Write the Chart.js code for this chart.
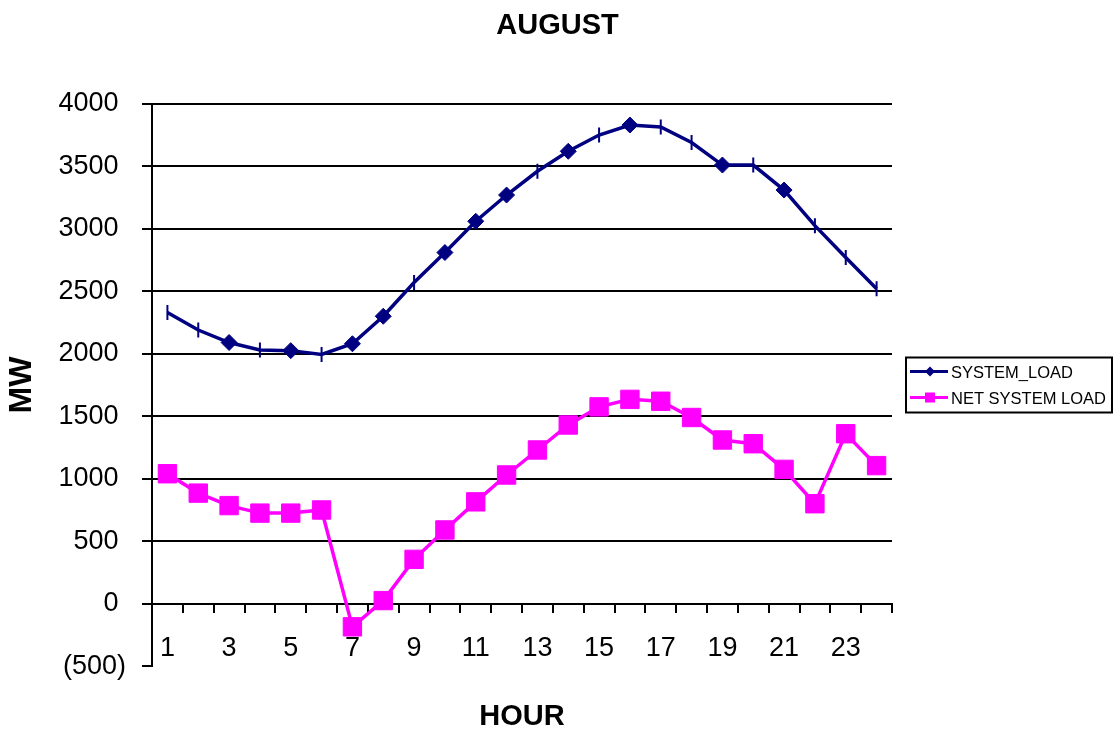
<!DOCTYPE html>
<html>
<head>
<meta charset="utf-8">
<script src="https://cdn.jsdelivr.net/npm/chart.js@4/dist/chart.umd.min.js"></script>
<style>
  html, body { margin: 0; padding: 0; background: #ffffff; }
  #wrap { width: 1115px; height: 735px; }
</style>
</head>
<body>
<div id="wrap"><canvas id="chart" width="1115" height="735"></canvas></div>
<script>
// Hourly load profile for August (MW)
const hours = [1, 2, 3, 4, 5, 6, 7, 8, 9, 10, 11, 12, 13, 14, 15, 16, 17, 18, 19, 20, 21, 22, 23, 24];
const systemLoad = [2330, 2190, 2090, 2030, 2025, 1995, 2080, 2300, 2570, 2810, 3060, 3270,
                    3460, 3620, 3750, 3830, 3815, 3690, 3510, 3510, 3310, 3025, 2770, 2520];
const netSystemLoad = [1040, 885, 785, 725, 725, 750, -185, 25, 355, 590, 815, 1030,
                       1230, 1430, 1575, 1635, 1620, 1490, 1310, 1280, 1075, 800, 1360, 1105];
const yTicks = [-500, 0, 500, 1000, 1500, 2000, 2500, 3000, 3500, 4000];

// Marker shape used for each system-load point
const systemMarkers = ['t', 't', 'd', 't', 'd', 't', 'd', 'd', 't', 'd', 'd', 'd',
                       't', 'd', 't', 'd', 't', 't', 'd', 't', 'd', 't', 't', 't'];

const NAVY = '#000080';
const MAGENTA = '#FF00FF';
const FONT = "'Liberation Sans', Arial, sans-serif";

Chart.defaults.color = '#000000';
Chart.defaults.font.family = FONT;

// Legend drawn as a boxed key to the right of the plot
const boxedLegend = {
  id: 'boxedLegend',
  afterDraw(chart) {
    const ctx = chart.ctx;
    const ca = chart.chartArea;
    const w = 206, h = 55;
    const bx = ca.right + 14;
    const by = (ca.top + ca.bottom) / 2 - h / 2;
    ctx.save();
    ctx.strokeStyle = '#000';
    ctx.lineWidth = 2;
    ctx.strokeRect(bx, by, w, h);
    const rows = [by + 14, by + 40];
    chart.data.datasets.forEach((ds, i) => {
      const y = rows[i];
      ctx.strokeStyle = ds.borderColor;
      ctx.lineWidth = 3;
      ctx.beginPath();
      ctx.moveTo(bx + 4, y);
      ctx.lineTo(bx + 42, y);
      ctx.stroke();
      ctx.fillStyle = ds.borderColor;
      const cx = bx + 24;
      if (i === 0) {
        ctx.beginPath();
        ctx.moveTo(cx - 5, y);
        ctx.lineTo(cx, y - 5);
        ctx.lineTo(cx + 5, y);
        ctx.lineTo(cx, y + 5);
        ctx.closePath();
        ctx.fill();
      } else {
        ctx.fillRect(cx - 5, y - 5, 10, 10);
      }
      ctx.fillStyle = '#000';
      ctx.font = '16.5px ' + FONT;
      ctx.textBaseline = 'middle';
      ctx.textAlign = 'left';
      ctx.fillText(ds.label, bx + 45, y + 2);
    });
    ctx.restore();
  }
};

const ctx = document.getElementById('chart').getContext('2d');
new Chart(ctx, {
  type: 'line',
  data: {
    labels: hours,
    datasets: [
      {
        label: 'SYSTEM_LOAD',
        data: systemLoad,
        borderColor: NAVY,
        backgroundColor: NAVY,
        borderWidth: 3.5,
        tension: 0,
        pointStyle: (c) => systemMarkers[c.dataIndex] === 'd' ? 'rectRot' : 'line',
        pointRotation: (c) => systemMarkers[c.dataIndex] === 'd' ? 0 : 90,
        pointRadius: (c) => systemMarkers[c.dataIndex] === 'd' ? 8 : 7.5,
        pointBorderWidth: (c) => systemMarkers[c.dataIndex] === 'd' ? 1 : 2,
        pointBackgroundColor: NAVY,
        pointBorderColor: NAVY
      },
      {
        label: 'NET SYSTEM LOAD',
        data: netSystemLoad,
        borderColor: MAGENTA,
        backgroundColor: MAGENTA,
        borderWidth: 3.5,
        tension: 0,
        pointStyle: 'rect',
        pointRadius: 13,
        pointBorderWidth: 1,
        pointBackgroundColor: MAGENTA,
        pointBorderColor: MAGENTA
      }
    ]
  },
  options: {
    responsive: false,
    animation: false,
    events: [],
    layout: { padding: 0 },
    plugins: {
      legend: { display: false },
      tooltip: { enabled: false },
      title: {
        display: true,
        text: 'AUGUST',
        color: '#000',
        font: { size: 29, weight: 'bold', family: FONT },
        padding: { top: 9, bottom: 60 }
      },
      subtitle: {
        display: true,
        position: 'bottom',
        fullSize: false,
        text: 'HOUR',
        color: '#000',
        font: { size: 29, weight: 'bold', family: FONT },
        padding: { top: 33, bottom: 1 }
      }
    },
    scales: {
      x: {
        type: 'category',
        position: { y: 0 },
        offset: true,
        border: { display: true, color: '#000', width: 2 },
        grid: {
          offset: true,
          drawOnChartArea: false,
          drawTicks: true,
          tickLength: 8,
          color: '#000',
          lineWidth: 2
        },
        ticks: {
          autoSkip: false,
          maxRotation: 0,
          minRotation: 0,
          padding: 21,
          color: '#000',
          font: { size: 27, family: FONT },
          callback: function (value, index) {
            const h = hours[index];
            return h % 2 === 1 ? String(h) : '';
          }
        }
      },
      y: {
        min: -500,
        max: 4000,
        afterFit: (scale) => { scale.width = 152; },
        afterBuildTicks: (scale) => { scale.ticks = yTicks.map(v => ({ value: v })); },
        border: { display: true, color: '#000', width: 2 },
        grid: {
          color: (c) => (c.tick && c.tick.value === -500) ? 'rgba(0,0,0,0)' : '#000',
          tickColor: '#000',
          lineWidth: 2,
          tickLength: 10,
          drawTicks: true
        },
        ticks: {
          padding: 16,
          color: '#000',
          font: { size: 27, family: FONT },
          callback: (v) => v < 0 ? '(' + Math.abs(v) + ')' : v + ' '
        },
        title: {
          display: true,
          text: 'MW',
          color: '#000',
          font: { size: 32, weight: 'bold', family: FONT },
          padding: { top: 3, bottom: 0 }
        }
      },
      // empty right-hand axis that reserves room for the key
      legendSpace: {
        type: 'linear',
        position: 'right',
        display: true,
        min: 0,
        max: 1,
        afterFit: (scale) => { scale.width = 223; },
        border: { display: false },
        grid: { display: false, drawTicks: false },
        ticks: { display: false }
      }
    }
  },
  plugins: [boxedLegend]
});
</script>
</body>
</html>
